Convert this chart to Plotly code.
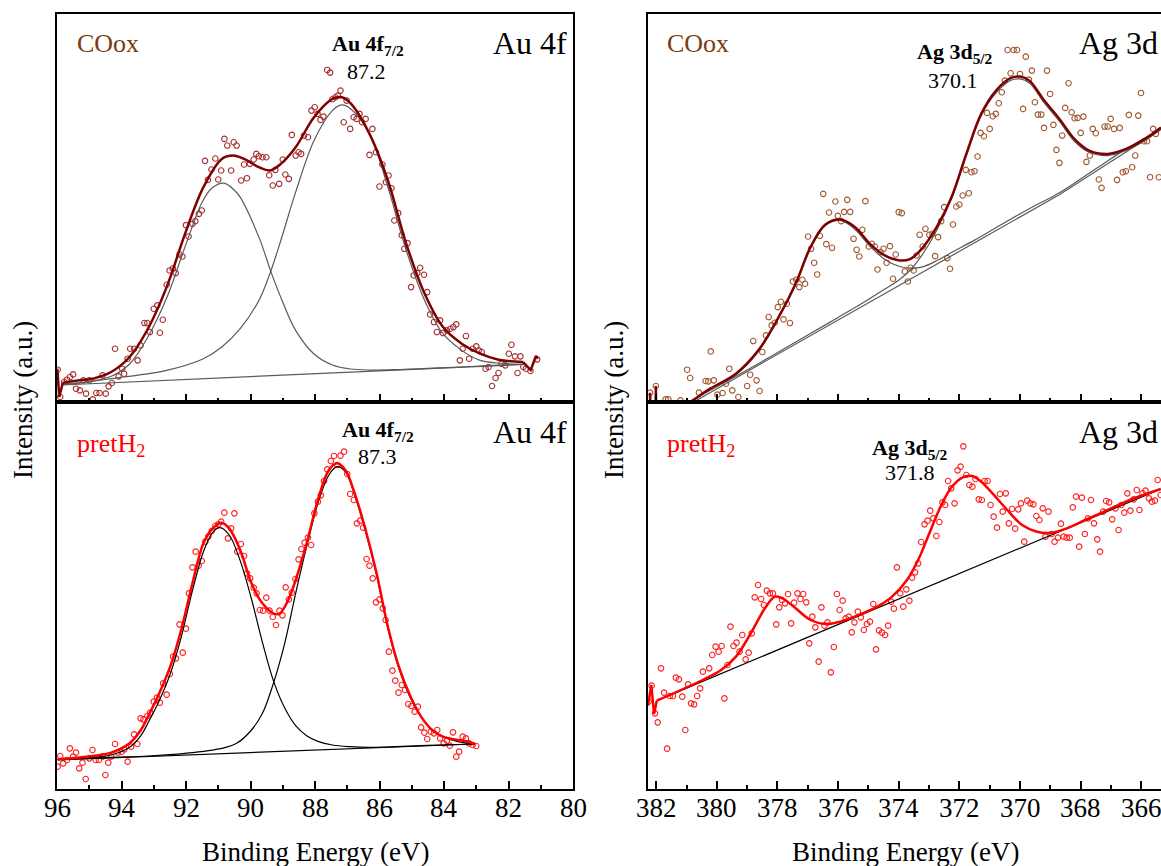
import plotly.graph_objects as go

FONT = "Liberation Serif, Times New Roman, serif"

# ---------------- Au 4f, COox (top-left) ----------------
au_co_be = [95.98, 95.90, 95.78, 95.69, 95.60, 95.50, 95.41, 95.29, 95.18, 95.10,
            95.00, 94.89, 94.78, 94.68, 94.59, 94.49, 94.40, 94.30, 94.20, 94.09,
            93.98, 93.92, 93.81, 93.73, 93.61, 93.50, 93.41, 93.29, 93.20, 93.12,
            93.00, 92.89, 92.81, 92.72, 92.60, 92.51, 92.41, 92.32, 92.20, 92.11,
            92.00, 91.92, 91.80, 91.71, 91.60, 91.51, 91.41, 91.32, 91.21, 91.09,
            91.00, 90.91, 90.81, 90.72, 90.60, 90.52, 90.43, 90.29, 90.20, 90.11,
            90.02, 89.90, 89.82, 89.74, 89.63, 89.51, 89.42, 89.31, 89.23, 89.11,
            89.00, 88.92, 88.81, 88.72, 88.60, 88.51, 88.43, 88.34, 88.22, 88.11,
            88.01, 87.92, 87.83, 87.74, 87.62, 87.53, 87.46, 87.37, 87.29, 87.21,
            87.11, 87.02, 86.91, 86.80, 86.71, 86.62, 86.54, 86.43, 86.31, 86.22,
            86.11, 86.00, 85.91, 85.80, 85.72, 85.63, 85.54, 85.42, 85.31, 85.23,
            85.13, 85.02, 84.94, 84.83, 84.74, 84.62, 84.52, 84.43, 84.31, 84.22,
            84.12, 84.03, 83.91, 83.80, 83.71, 83.62, 83.51, 83.42, 83.32, 83.22,
            83.11, 83.00, 82.92, 82.83, 82.71, 82.62, 82.51, 82.40, 82.31, 82.22,
            82.10, 81.99, 81.91, 81.80, 81.72, 81.63, 81.54, 81.46, 81.32, 81.11]
au_co_int = [97, 15, 60, 67, 75, 83, 40, 35, 65, 25,
             65, 8, 27, 27, 80, 25, 47, 57, 160, 77,
             100, 85, 130, 160, 160, 125, 170, 237, 237, 210,
             280, 290, 208, 247, 352, 395, 401, 387, 443, 437,
             531, 497, 535, 543, 565, 575, 724, 667, 698, 731,
             668, 695, 790, 770, 695, 780, 770, 665, 713, 672,
             715, 728, 745, 738, 735, 735, 681, 650, 697, 655,
             728, 683, 670, 802, 740, 750, 745, 800, 795, 875,
             885, 865, 847, 857, 997, 989, 909, 915, 920, 935,
             840, 905, 820, 855, 850, 865, 840, 850, 742, 820,
             750, 647, 713, 660, 680, 642, 545, 567, 501, 460,
             477, 345, 380, 387, 403, 382, 330, 263, 240, 210,
             245, 207, 215, 220, 225, 233, 125, 160, 198, 130,
             160, 167, 155, 150, 100, 105, 48, 72, 87, 115,
             110, 145, 172, 137, 87, 137, 105, 100, 93, 128]
au_co_env_be = [95.82, 95.4, 94.89, 94.32, 93.75, 93.18, 92.60, 92.03, 91.46, 90.89,
                90.54, 90.20, 89.74, 89.40, 89.06, 88.60, 88.03, 87.46, 87.17, 86.88,
                86.31, 85.74, 85.17, 84.60, 84.03, 83.45, 82.88, 82.31, 81.55]
au_co_env_int = [58, 64, 70, 90, 135, 220, 345, 505, 645, 730,
                 740, 730, 705, 695, 715, 765, 855, 910, 915, 895,
                 805, 665, 475, 325, 225, 175, 145, 127, 120]
au_co_edge1_be = [95.99, 95.93, 95.82]
au_co_edge1_int = [100, 15, 58]
au_co_edge2_be = [81.55, 81.31, 81.15, 81.09]
au_co_edge2_int = [120, 96, 138, 130]
au_co_c1_be = [95.85, 94.9, 94.3, 93.75, 93.2, 92.6, 92.0, 91.5, 91.2, 90.83, 90.5, 90.32,
               89.74, 89.34, 89.0, 88.6, 88.03, 87.46, 86.9, 86.31, 85.5, 84.5, 83.5, 82.5, 81.45]
au_co_c1_int = [54, 63, 78, 114, 192, 312, 474, 600, 642, 657, 636, 615,
                495, 384, 300, 215, 144, 111, 99, 96, 97, 101, 105, 110, 114]
au_co_c2_be = [95.85, 95.46, 94.32, 92.6, 91.46, 90.89, 90.32, 89.74, 89.40, 89.06, 88.6, 88.03,
               87.46, 87.17, 86.88, 86.31, 85.74, 85.17, 84.6, 84.03, 83.45, 82.88, 82.2, 81.45]
au_co_c2_int = [52, 55, 70, 95, 130, 165, 220, 305, 385, 485, 630, 785,
                875, 892, 879, 805, 645, 455, 305, 205, 155, 125, 116, 113]
au_co_bg_be = [95.85, 81.45]
au_co_bg_int = [51, 113]

# ---------------- Au 4f, pretH2 (bottom-left) ----------------
au_h2_be = [95.98, 95.90, 95.81, 95.69, 95.60, 95.50, 95.41, 95.31, 95.21, 95.11,
            95.00, 94.90, 94.80, 94.70, 94.59, 94.50, 94.41, 94.32, 94.20, 94.11,
            94.00, 93.91, 93.81, 93.70, 93.61, 93.51, 93.41, 93.32, 93.20, 93.11,
            93.00, 92.90, 92.81, 92.71, 92.60, 92.50, 92.40, 92.31, 92.20, 92.10,
            92.00, 91.91, 91.80, 91.70, 91.61, 91.51, 91.40, 91.31, 91.20, 91.09,
            91.00, 90.91, 90.81, 90.70, 90.60, 90.50, 90.41, 90.30, 90.20, 90.11,
            90.01, 89.90, 89.81, 89.71, 89.61, 89.51, 89.41, 89.31, 89.21, 89.10,
            89.01, 88.91, 88.81, 88.72, 88.61, 88.51, 88.42, 88.32, 88.22, 88.12,
            88.02, 87.91, 87.82, 87.72, 87.62, 87.51, 87.41, 87.31, 87.21, 87.10,
            87.00, 86.91, 86.80, 86.70, 86.60, 86.51, 86.40, 86.31, 86.21, 86.11,
            86.00, 85.90, 85.81, 85.71, 85.60, 85.51, 85.41, 85.31, 85.21, 85.11,
            85.01, 84.91, 84.81, 84.71, 84.61, 84.52, 84.41, 84.31, 84.21, 84.12,
            84.01, 83.91, 83.82, 83.72, 83.62, 83.53, 83.42, 83.32, 83.22, 83.11,
            83.00]
au_h2_int = [67, 99, 77, 87, 122, 97, 109, 62, 79, 30,
             92, 117, 87, 87, 97, 42, 79, 97, 135, 109,
             111, 119, 82, 127, 164, 135, 212, 209, 219, 229,
             262, 274, 259, 317, 283, 345, 397, 392, 494, 409,
             481, 587, 665, 712, 670, 684, 742, 757, 774, 789,
             794, 802, 829, 752, 782, 827, 712, 735, 699, 647,
             632, 604, 587, 537, 535, 574, 535, 516, 492, 535,
             521, 605, 569, 589, 630, 689, 720, 739, 754, 732,
             827, 862, 881, 924, 959, 984, 999, 972, 1000, 1012,
             945, 885, 867, 797, 805, 784, 690, 670, 632, 560,
             569, 542, 507, 412, 355, 325, 289, 312, 297, 255,
             249, 232, 247, 185, 169, 150, 172, 167, 177, 152,
             137, 145, 130, 170, 97, 112, 157, 152, 137, 132,
             129]
au_h2_env_be = [95.98, 94.89, 94.32, 93.75, 93.40, 93.18, 92.83, 92.49, 92.15, 91.80,
                91.46, 91.17, 90.91, 90.66, 90.32, 89.97, 89.63, 89.29, 89.11, 88.83,
                88.60, 88.26, 87.91, 87.57, 87.32, 87.06, 86.77, 86.43, 86.09, 85.74,
                85.40, 85.06, 84.71, 84.37, 84.03, 83.57, 83.23, 83.05]
au_h2_env_int = [89, 99, 109, 137, 177, 217, 287, 367, 477, 617,
                 737, 782, 799, 782, 717, 617, 557, 527, 525, 567,
                 627, 737, 867, 957, 977, 957, 887, 777, 647, 487,
                 367, 282, 217, 177, 157, 147, 142, 135]
au_h2_c1_be = [95.98, 94.9, 94.32, 93.75, 93.4, 93.18, 92.83, 92.49, 92.15, 91.80, 91.46, 91.17,
               90.95, 90.66, 90.32, 89.97, 89.63, 89.29, 88.95, 88.6, 88.26, 87.91, 87.46, 86.9,
               86.31, 85.5, 84.5, 83.05]
au_h2_c1_int = [88, 95, 102, 125, 160, 198, 265, 345, 455, 595, 712, 770,
                784, 762, 685, 570, 440, 325, 245, 190, 160, 143, 132, 127,
                125, 127, 131, 135]
au_h2_c2_be = [95.98, 94.32, 93.18, 92.03, 90.89, 90.43, 89.97, 89.63, 89.29, 88.94, 88.60, 88.26,
               87.91, 87.57, 87.32, 87.06, 86.77, 86.43, 86.09, 85.74, 85.40, 85.06, 84.71, 84.37,
               84.03, 83.57, 83.05]
au_h2_c2_int = [89, 95, 99, 107, 122, 137, 177, 227, 317, 437, 587, 727,
                857, 942, 967, 952, 882, 772, 642, 482, 362, 277, 217, 177,
                157, 142, 135]
au_h2_bg_be = [95.98, 83.05]
au_h2_bg_int = [87, 135]

# ---------------- Ag 3d, COox (top-right) ----------------
ag_co_be = [382.20, 382.01,
            381.69, 381.60, 381.20, 380.98, 380.88, 380.59, 380.37, 380.28, 380.20, 380.10,
            379.98, 379.81, 379.70, 379.59, 379.49, 379.29, 379.00, 378.90, 378.80, 378.69,
            378.59, 378.50, 378.38, 378.29, 378.19, 378.09, 377.99, 377.89, 377.80, 377.69,
            377.59, 377.49, 377.38, 377.28, 377.18, 377.09, 376.99, 376.89, 376.79, 376.69,
            376.60, 376.49, 376.39, 376.30, 376.20, 376.09, 376.01, 375.90, 375.80, 375.70,
            375.60, 375.49, 375.39, 375.30, 375.20, 375.10, 374.99, 374.89, 374.79, 374.70,
            374.60, 374.50, 374.40, 374.29, 374.19, 374.10, 374.00, 373.90, 373.80, 373.70,
            373.61, 373.51, 373.41, 373.31, 373.21, 373.12, 372.99, 372.89, 372.80, 372.70,
            372.60, 372.50, 372.40, 372.31, 372.21, 372.10, 372.00, 371.89, 371.79, 371.69,
            371.60, 371.50, 371.40, 371.30, 371.19, 371.09, 371.00, 370.90, 370.80, 370.70,
            370.60, 370.50, 370.41, 370.31, 370.21, 370.10, 370.00, 369.90, 369.81, 369.71,
            369.61, 369.51, 369.41, 369.30, 369.21, 369.11, 369.01, 368.90, 368.80, 368.70,
            368.61, 368.51, 368.40, 368.30, 368.20, 368.10, 368.00, 367.91, 367.81, 367.70,
            367.60, 367.50, 367.40, 367.31, 367.21, 367.11, 367.01, 366.90, 366.80, 366.71,
            366.61, 366.51, 366.41, 366.30, 366.20, 366.10, 366.01, 365.91, 365.81, 365.71,
            365.61, 365.52, 365.42]
ag_co_int = [28, 48,
             8, 8, 5, 97, 72, 28, 63, 62, 152, 65,
             22, 27, 55, 100, 35, 15, 48, 82, 183, 65,
             33, 150, 200, 255, 230, 238, 285, 301, 248, 295,
             237, 362, 367, 345, 367, 355, 497, 460, 418, 383,
             499, 625, 474, 569, 463, 602, 559, 543, 571, 607,
             571, 490, 457, 437, 517, 603, 467, 475, 467, 398,
             450, 460, 418, 468, 370, 443, 570, 567, 392, 362,
             403, 395, 440, 502, 467, 520, 502, 505, 438, 495,
             543, 585, 432, 400, 533, 587, 593, 620, 697, 627,
             690, 693, 737, 808, 798, 868, 820, 858, 865, 897,
             930, 965, 1057, 987, 1057, 1057, 985, 880, 1037, 968,
             995, 900, 863, 863, 823, 995, 925, 832, 757, 718,
             800, 883, 957, 870, 852, 853, 808, 857, 721, 740,
             820, 807, 668, 643, 827, 827, 850, 820, 667, 823,
             690, 693, 862, 705, 740, 860, 928, 783, 783, 675,
             820, 805, 675]
ag_co_env_be = [381.9, 380.88, 380.22, 379.37, 378.63, 378.02, 377.40, 376.91, 376.42, 375.93,
                375.44, 374.95, 374.46, 373.97, 373.61, 373.24, 372.75, 372.26, 371.77, 371.28,
                370.79, 370.30, 370.00, 369.69, 369.20, 368.70, 368.21, 367.72, 367.11, 366.50,
                365.88, 365.35]
ag_co_env_int = [-60, 0, 40, 85, 155, 245, 355, 465, 533, 548,
                 525, 475, 440, 425, 430, 460, 525, 615, 745, 865,
                 935, 973, 977, 965, 905, 850, 790, 755, 745, 760,
                 790, 824]
ag_co_edge_be = [382.27, 382.21, 382.20, 382.19, 382.02, 382.01, 382.00, 381.9]
ag_co_edge_int = [-40, -40, 28, -40, -40, 48, -40, -60]
ag_co_c1_be = [381.9, 380.85, 380.22, 379.37, 378.63, 378.02, 377.40, 376.91, 376.42, 375.93,
               375.44, 374.95, 374.46, 373.97, 373.61, 373.24, 372.75, 372.26, 371.5, 370.5,
               369.5, 368.7, 367.5, 366.5, 365.35]
ag_co_c1_int = [-59, 0, 38, 82, 152, 243, 353, 462, 530, 545,
                518, 468, 428, 407, 402, 405, 424, 449, 486, 539,
                590, 628, 700, 760, 820]
ag_co_c2_be = [381.9, 380.85, 379.0, 377.0, 376.0, 375.0, 374.46, 373.97, 373.61, 373.24,
               372.75, 372.26, 371.77, 371.28, 370.79, 370.30, 370.00, 369.69, 369.20, 368.70,
               368.21, 367.72, 367.11, 366.50, 365.88, 365.35]
ag_co_c2_int = [-59, 2, 96, 201, 254, 308, 339, 368, 397, 440,
                515, 610, 740, 860, 928, 966, 970, 958, 898, 843,
                783, 750, 740, 755, 785, 820]
ag_co_bg_be = [381.9, 378.91, 368.69, 365.35]
ag_co_bg_int = [-59, 96, 623, 818]

# ---------------- Ag 3d, pretH2 (bottom-right) ----------------
ag_h2_be = [382.25, 382.15, 382.04, 381.95, 381.84, 381.74, 381.64, 381.55, 381.45, 381.35,
            381.25, 381.14, 381.04, 380.95, 380.85, 380.75, 380.65, 380.55, 380.46, 380.25,
            380.15, 380.04, 379.94, 379.84, 379.75, 379.65, 379.55, 379.45, 379.35, 379.25,
            379.16, 379.05, 378.95, 378.85, 378.75, 378.64, 378.54, 378.45, 378.35, 378.25,
            378.15, 378.04, 377.94, 377.85, 377.75, 377.65, 377.55, 377.45, 377.34, 377.24,
            377.15, 377.05, 376.95, 376.85, 376.75, 376.64, 376.55, 376.45, 376.35, 376.24,
            376.14, 376.04, 375.95, 375.85, 375.75, 375.65, 375.55, 375.46, 375.35, 375.25,
            375.15, 375.05, 374.95, 374.84, 374.75, 374.65, 374.55, 374.45, 374.35, 374.25,
            374.16, 374.06, 373.95, 373.85, 373.75, 373.65, 373.56, 373.46, 373.36, 373.26,
            373.15, 373.05, 372.96, 372.86, 372.76, 372.66, 372.56, 372.47, 372.37, 372.27,
            372.16, 372.06, 371.96, 371.87, 371.77, 371.67, 371.57, 371.47, 371.36, 371.26,
            371.17, 371.07, 370.97, 370.87, 370.76, 370.66, 370.57, 370.47, 370.37, 370.26,
            370.16, 370.06, 369.97, 369.86, 369.76, 369.66, 369.56, 369.46, 369.36, 369.25,
            369.16, 369.06, 368.96, 368.86, 368.75, 368.65, 368.56, 368.46, 368.36, 368.26,
            368.15, 368.05, 367.96, 367.86, 367.76, 367.66, 367.56, 367.45, 367.36, 367.26,
            367.16, 367.06, 366.96, 366.85, 366.75, 366.66, 366.56, 366.46, 366.36, 366.25,
            366.15, 366.06, 365.96, 365.86, 365.75, 365.65, 365.55, 365.46, 365.36]
ag_h2_int = [262, 310, 227, 200, 362, 289, 121, 279, 279, 334,
             329, 277, 177, 314, 257, 254, 279, 302, 352, 362,
             402, 427, 412, 429, 272, 372, 487, 429, 439, 412,
             462, 389, 409, 467, 575, 612, 570, 552, 595, 587,
             587, 494, 545, 567, 557, 585, 497, 559, 587, 570,
             585, 560, 437, 517, 485, 382, 545, 490, 500, 350,
             426, 585, 537, 565, 512, 517, 470, 500, 532, 515,
             477, 495, 502, 555, 419, 476, 469, 462, 490, 562,
             541, 665, 587, 547, 599, 565, 634, 650, 677, 741,
             794, 805, 835, 812, 759, 801, 860, 852, 924, 902,
             857, 956, 967, 1028, 942, 912, 907, 930, 869, 867,
             924, 924, 852, 817, 784, 885, 832, 887, 797, 840,
             781, 839, 857, 742, 865, 857, 854, 819, 807, 842,
             757, 832, 765, 742, 754, 796, 757, 754, 754, 845,
             877, 727, 874, 765, 812, 867, 797, 749, 712, 832,
             864, 860, 809, 842, 777, 852, 829, 887, 835, 869,
             897, 837, 887, 895, 872, 862, 865, 927, 882]
ag_h2_env_be = [381.98, 380.47, 379.86, 379.37, 378.88, 378.38, 378.08, 377.83, 377.40, 376.91,
                376.42, 375.93, 375.32, 374.71, 374.22, 373.73, 373.36, 372.99, 372.62, 372.26,
                371.89, 371.58, 371.28, 370.91, 370.42, 369.93, 369.44, 368.95, 368.46, 367.85,
                367.11, 366.38, 365.36]
ag_h2_env_int = [265, 327, 357, 397, 467, 547, 577, 572, 542, 507,
                 495, 502, 522, 547, 577, 627, 687, 767, 847, 905,
                 935, 939, 922, 887, 837, 792, 772, 769, 782, 807,
                 837, 867, 900]
ag_h2_edge_be = [382.27, 382.16, 382.07, 381.98]
ag_h2_edge_int = [250, 312, 225, 265]
ag_h2_bg_be = [381.98, 365.36]
ag_h2_bg_int = [265, 900]

# ---------------- labels ----------------
au_ticks = [96, 94, 92, 90, 88, 86, 84, 82, 80]
ag_ticks = [382, 380, 378, 376, 374, 372, 370, 368, 366]

# ---------------- styling ----------------
CO_TXT = "#7B3A10"
AU_CO_MK = "#A3302F"
AG_CO_MK = "#A0582F"
CO_LINE = "#7F0000"
CO_COMP = "#5A5A5A"
H2_MK = "#FF2020"
H2_LINE = "#FF0000"

W, H = 1161, 866
ML, MR, MT, MB = 57, 0, 14, 77
PW = W - ML - MR
PH = H - MT - MB


def fx(px):
    return (px - ML) / PW


def fy(py):
    return (H - MB - py) / PH


fig = go.Figure()


def pts(x, y, xa, ya, color):
    fig.add_trace(go.Scatter(x=x, y=y, xaxis=xa, yaxis=ya, mode="markers",
                             marker=dict(symbol="circle-open", size=5.5, color=color,
                                         line=dict(width=1.1, color=color)),
                             showlegend=False, hoverinfo="skip"))


def line(x, y, xa, ya, color, width, spline=True):
    fig.add_trace(go.Scatter(x=x, y=y, xaxis=xa, yaxis=ya, mode="lines",
                             line=dict(color=color, width=width,
                                       shape="spline" if spline else "linear"),
                             showlegend=False, hoverinfo="skip"))


# top-left
pts(au_co_be, au_co_int, "x", "y", AU_CO_MK)
line(au_co_bg_be, au_co_bg_int, "x", "y", CO_COMP, 1.2, False)
line(au_co_c1_be, au_co_c1_int, "x", "y", CO_COMP, 1.2)
line(au_co_c2_be, au_co_c2_int, "x", "y", CO_COMP, 1.2)
line(au_co_env_be, au_co_env_int, "x", "y", CO_LINE, 2.5)
line(au_co_edge1_be, au_co_edge1_int, "x", "y", CO_LINE, 2.5, False)
line(au_co_edge2_be, au_co_edge2_int, "x", "y", CO_LINE, 2.5, False)

# bottom-left
pts(au_h2_be, au_h2_int, "x2", "y2", H2_MK)
line(au_h2_bg_be, au_h2_bg_int, "x2", "y2", "black", 1.2, False)
line(au_h2_c1_be, au_h2_c1_int, "x2", "y2", "black", 1.2)
line(au_h2_c2_be, au_h2_c2_int, "x2", "y2", "black", 1.2)
line(au_h2_env_be, au_h2_env_int, "x2", "y2", H2_LINE, 2.5)

# top-right
pts(ag_co_be, ag_co_int, "x3", "y3", AG_CO_MK)
line(ag_co_bg_be, ag_co_bg_int, "x3", "y3", CO_COMP, 1.2, False)
line(ag_co_c1_be, ag_co_c1_int, "x3", "y3", CO_COMP, 1.2)
line(ag_co_c2_be, ag_co_c2_int, "x3", "y3", CO_COMP, 1.2)
line(ag_co_env_be, ag_co_env_int, "x3", "y3", CO_LINE, 2.5)
line(ag_co_edge_be, ag_co_edge_int, "x3", "y3", CO_LINE, 2.5, False)

# bottom-right
pts(ag_h2_be, ag_h2_int, "x4", "y4", H2_MK)
line(ag_h2_bg_be, ag_h2_bg_int, "x4", "y4", "black", 1.2, False)
line(ag_h2_env_be, ag_h2_env_int, "x4", "y4", H2_LINE, 2.5)
line(ag_h2_edge_be, ag_h2_edge_int, "x4", "y4", H2_LINE, 2.5, False)


def xax(domain, rng, anchor, ticks):
    return dict(domain=domain, range=rng, anchor=anchor, autorange=False,
                showline=True, linecolor="black", linewidth=2, mirror=True,
                ticks="inside", ticklen=8, tickwidth=2, tickcolor="black",
                tickmode="array", tickvals=ticks,
                minor=dict(ticks="inside", ticklen=4, tickwidth=2, tickcolor="black",
                           tick0=0, dtick=1),
                showgrid=False, zeroline=False, showticklabels=False)


def yax(domain, rng, anchor, mirror):
    return dict(domain=domain, range=rng, anchor=anchor, autorange=False,
                showline=True, linecolor="black", linewidth=2, mirror=mirror,
                ticks="", showticklabels=False, showgrid=False, zeroline=False)


split = fy(402)
xl = [0, fx(573)]
xr = [fx(648), 1]

fig.update_layout(
    width=W, height=H,
    margin=dict(l=ML, r=MR, t=MT, b=MB, pad=0),
    paper_bgcolor="white", plot_bgcolor="white",
    font=dict(family=FONT, color="black"),
    showlegend=False,
    xaxis=xax(xl, [96, 80], "y", au_ticks),
    yaxis=yax([split, 1], [0, 1165], "x", True),
    xaxis2=xax(xl, [96, 80], "y2", au_ticks),
    yaxis2=yax([0, split], [0, 1161], "x2", True),
    xaxis3=xax(xr, [382.27, 365.35], "y3", ag_ticks),
    yaxis3=yax([split, 1], [0, 1165], "x3", False),
    xaxis4=xax(xr, [382.27, 365.35], "y4", ag_ticks),
    yaxis4=yax([0, split], [0, 1161], "x4", False),
)

ann = []


def text(t, x, y, size, color="black", xanchor="center", angle=0):
    ann.append(dict(text=t, x=fx(x), y=fy(y), xref="paper", yref="paper",
                    xanchor=xanchor, yanchor="middle", showarrow=False,
                    textangle=angle, font=dict(family=FONT, size=size, color=color)))


# tick labels on the bottom axes (placed with each axis' own scale)
for t in au_ticks:
    ann.append(dict(text=str(t), x=t, xref="x2", y=fy(808), yref="paper",
                    xanchor="center", yanchor="middle", showarrow=False,
                    font=dict(family=FONT, size=27, color="black")))
for t in ag_ticks:
    ann.append(dict(text=str(t), x=t, xref="x4", y=fy(808), yref="paper",
                    xanchor="center", yanchor="middle", showarrow=False,
                    font=dict(family=FONT, size=27, color="black")))

# top-left
text("COox", 75, 43, 26, CO_TXT, "left")
text("Au 4f", 569, 43, 32, "black", "right")
text("<b>Au 4f<sub>7/2</sub></b>", 368, 45, 22)
text("87.2", 366, 71, 22)
# bottom-left
text("pretH<sub>2</sub>", 75, 445, 26, H2_LINE, "left")
text("Au 4f", 569, 432, 32, "black", "right")
text("<b>Au 4f<sub>7/2</sub></b>", 378, 431, 22)
text("87.3", 377, 457, 22)
# top-right
text("COox", 665, 43, 26, CO_TXT, "left")
text("Ag 3d", 1160, 43, 32, "black", "right")
text("<b>Ag 3d<sub>5/2</sub></b>", 955, 53, 22)
text("370.1", 953, 80, 22)
# bottom-right
text("pretH<sub>2</sub>", 665, 445, 26, H2_LINE, "left")
text("Ag 3d", 1160, 432, 32, "black", "right")
text("<b>Ag 3d<sub>5/2</sub></b>", 910, 449, 22)
text("371.8", 910, 472, 22)
# axis titles
text("Binding Energy (eV)", 315.5, 852, 27)
text("Binding Energy (eV)", 905.5, 852, 27)
text("Intensity (a.u.)", 23, 400, 27, angle=-90)
text("Intensity (a.u.)", 614, 400, 27, angle=-90)

fig.update_layout(annotations=ann)

fig.write_html("out.html",
               config={"displayModeBar": False},
               post_script="document.body.style.margin='0';document.body.style.overflow='hidden';")
